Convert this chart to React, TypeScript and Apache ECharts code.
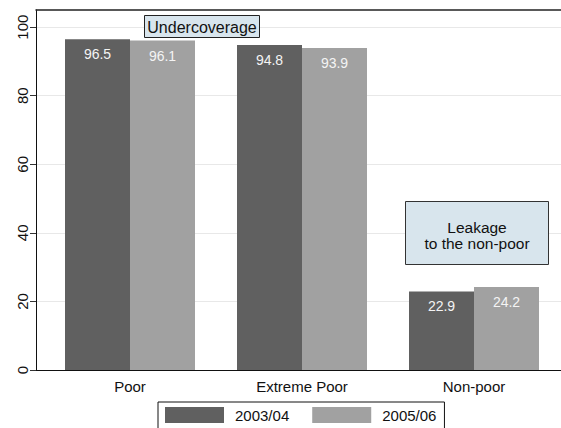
import React, { useEffect, useRef } from "react";
import * as echarts from "echarts";

const categories = ["Poor", "Extreme Poor", "Non-poor"];
const seriesNames = ["2003/04", "2005/06"];
const values2003 = [96.5, 94.8, 22.9];
const values2005 = [96.1, 93.9, 24.2];
const yTicks = [0, 20, 40, 60, 80, 100];
const noteUnder = "Undercoverage";
const noteLeak = ["Leakage", "to the non-poor"];

const FONT = "'Liberation Sans', Arial, sans-serif";
const DARK = "#606060";
const LIGHT = "#a1a1a1";
const BOXFILL = "#d8e5ed";

export default function App() {
  const ref = useRef<HTMLDivElement>(null);
  useEffect(() => {
    if (!ref.current) return;
    const chart = echarts.init(ref.current, undefined, { renderer: "svg" });
    const label = {
      show: true,
      position: "insideTop",
      distance: 8,
      color: "#f4f4f4",
      fontSize: 14,
      fontFamily: FONT,
      formatter: (p: any) => p.value.toFixed(1),
    };
    chart.setOption({
      animation: false,
      backgroundColor: "#ffffff",
      textStyle: { fontFamily: FONT },
      grid: [
        { left: 44, right: 1, top: 10, bottom: 58 },
        { left: 36, right: 0, top: 10, bottom: 58 },
      ],
      xAxis: [
        {
          type: "category",
          gridIndex: 0,
          data: categories,
          axisLine: { show: false },
          axisTick: { show: false },
          axisLabel: { fontSize: 15, color: "#111", margin: 9, fontFamily: FONT },
        },
        {
          type: "category",
          gridIndex: 1,
          data: categories,
          position: "bottom",
          axisLine: { show: true, lineStyle: { color: "#111", width: 1 } },
          axisTick: { show: false },
          axisLabel: { show: false },
        },
        {
          type: "category",
          gridIndex: 1,
          data: categories,
          position: "top",
          axisLine: { show: true, lineStyle: { color: "#222", width: 1.5 } },
          axisTick: { show: false },
          axisLabel: { show: false },
        },
      ],
      yAxis: [
        { type: "value", gridIndex: 0, min: 0, max: 105, show: false, splitLine: { show: false } },
        {
          type: "value",
          gridIndex: 1,
          min: 0,
          max: 105,
          interval: 20,
          axisLine: { show: true, lineStyle: { color: "#111", width: 1 } },
          axisTick: {
            show: true,
            length: 6,
            lineStyle: { color: "#333" },
            customValues: yTicks,
          },
          axisLabel: {
            rotate: 90,
            fontSize: 15,
            color: "#111",
            margin: 6,
            fontFamily: FONT,
            customValues: yTicks,
          },
          splitLine: { show: true, lineStyle: { color: "#e8e8e8", width: 1 } },
        },
      ],
      legend: {
        left: 158,
        top: 402,
        orient: "horizontal",
        padding: [5, 8, 8, 7],
        itemGap: 23,
        itemWidth: 59,
        itemHeight: 16,
        borderColor: "#111",
        borderWidth: 1,
        backgroundColor: "#fff",
        icon: "rect",
        data: seriesNames,
        textStyle: { fontSize: 15, color: "#111", fontFamily: FONT, padding: [0, 0, 0, 6] },
      },
      series: [
        {
          name: seriesNames[0],
          type: "bar",
          xAxisIndex: 0,
          yAxisIndex: 0,
          data: values2003,
          barWidth: 65,
          barGap: "0%",
          itemStyle: { color: DARK },
          label,
          z: 3,
        },
        {
          name: seriesNames[1],
          type: "bar",
          xAxisIndex: 0,
          yAxisIndex: 0,
          data: values2005,
          barWidth: 65,
          barGap: "0%",
          itemStyle: { color: LIGHT },
          label,
          z: 3,
        },
      ],
      graphic: {
        z: 100,
        elements: [
          {
            type: "group",
            left: 144,
            top: 15,
            z: 100,
            children: [
              {
                type: "rect",
                z: 100,
                shape: { x: 0, y: 0, width: 115, height: 22 },
                style: { fill: BOXFILL, stroke: "#222", lineWidth: 1 },
              },
              {
                type: "text",
                z: 101,
                x: 57.5,
                y: 11.5,
                style: {
                  text: noteUnder,
                  fontSize: 16,
                  fontFamily: FONT,
                  fill: "#111",
                  align: "center",
                  verticalAlign: "middle",
                },
              },
            ],
          },
          {
            type: "group",
            left: 405,
            top: 201,
            z: 100,
            children: [
              {
                type: "rect",
                z: 100,
                shape: { x: 0, y: 0, width: 143, height: 63 },
                style: { fill: BOXFILL, stroke: "#333", lineWidth: 1 },
              },
              {
                type: "text",
                z: 101,
                x: 71.5,
                y: 26,
                style: {
                  text: noteLeak[0],
                  fontSize: 15.5,
                  fontFamily: FONT,
                  fill: "#111",
                  align: "center",
                  verticalAlign: "middle",
                },
              },
              {
                type: "text",
                z: 101,
                x: 71.5,
                y: 42,
                style: {
                  text: noteLeak[1],
                  fontSize: 15.5,
                  fontFamily: FONT,
                  fill: "#111",
                  align: "center",
                  verticalAlign: "middle",
                },
              },
            ],
          },
        ],
      },
    });
    return () => chart.dispose();
  }, []);
  return (
    <div
      ref={ref}
      style={{ position: "fixed", left: 0, top: 0, width: 561, height: 428 }}
    />
  );
}
